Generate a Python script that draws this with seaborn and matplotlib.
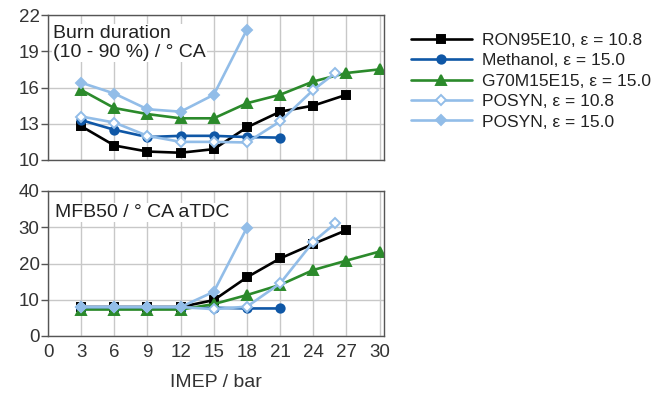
import numpy as np
import pandas as pd
import matplotlib
matplotlib.use("Agg")
import matplotlib.pyplot as plt
import seaborn as sns

sns.set_theme(style="whitegrid")
plt.rcParams['font.family'] = ['Liberation Sans', 'DejaVu Sans']

# ---- data ----
series_names = ["RON95E10, ε = 10.8", "Methanol, ε = 15.0", "G70M15E15, ε = 15.0",
                "POSYN, ε = 10.8", "POSYN, ε = 15.0"]

x_ron = [3, 6, 9, 12, 15, 18, 21, 24, 27]
x_meth = [3, 6, 9, 12, 15, 18, 21]
x_g70 = [3, 6, 9, 12, 15, 18, 21, 24, 27, 30]
x_pos108 = [3, 6, 9, 12, 15, 18, 21, 24, 26]
x_pos150 = [3, 6, 9, 12, 15, 18]

burn_ron = [12.8, 11.2, 10.7, 10.6, 10.9, 12.7, 14.0, 14.5, 15.4]
burn_meth = [13.3, 12.5, 11.9, 12.0, 12.0, 11.9, 11.85]
burn_g70 = [15.8, 14.3, 13.8, 13.45, 13.45, 14.7, 15.4, 16.5, 17.2, 17.5]
burn_pos108 = [13.6, 13.1, 12.0, 11.5, 11.5, 11.45, 13.2, 15.8, 17.2]
burn_pos150 = [16.4, 15.5, 14.2, 14.0, 15.4, 20.8]

mfb_ron = [8.0, 8.0, 8.0, 8.0, 9.9, 16.2, 21.4, 25.4, 29.2]
mfb_meth = [7.8, 7.8, 7.8, 7.8, 7.8, 7.6, 7.6]
mfb_g70 = [7.3, 7.3, 7.3, 7.3, 8.8, 11.3, 14.1, 18.2, 20.8, 23.3]
mfb_pos108 = [8.0, 8.0, 8.0, 8.0, 7.4, 8.1, 14.5, 26.0, 31.1]
mfb_pos150 = [8.0, 8.0, 8.0, 8.0, 12.2, 29.9]

x_ticks = [0, 3, 6, 9, 12, 15, 18, 21, 24, 27, 30]
burn_ticks = [10, 13, 16, 19, 22]
mfb_ticks = [0, 10, 20, 30, 40]

# ---- styles ----
lb = "#92bde8"
styles = [
    dict(color="black", marker="s", mfc="black", mec="black", ms=6),
    dict(color="#0f57a6", marker="o", mfc="#0f57a6", mec="#0f57a6", ms=6),
    dict(color="#2b8a2b", marker="^", mfc="#2b8a2b", mec="#2b8a2b", ms=7),
    dict(color=lb, marker="D", mfc="white", mec=lb, ms=5.5),
    dict(color=lb, marker="D", mfc=lb, mec=lb, ms=5.5),
]
xs = [x_ron, x_meth, x_g70, x_pos108, x_pos150]
burns = [burn_ron, burn_meth, burn_g70, burn_pos108, burn_pos150]
mfbs = [mfb_ron, mfb_meth, mfb_g70, mfb_pos108, mfb_pos150]

fig = plt.figure(figsize=(6.61, 3.93), dpi=100)
W, H = 661, 393
ax1 = fig.add_axes([48 / W, 1 - 160 / H, 336 / W, 145 / H])
ax2 = fig.add_axes([48 / W, 1 - 336 / H, 336 / W, 145 / H])

text_col = "#333333"
for ax, data, ticks, lim in [(ax1, burns, burn_ticks, (10, 22)), (ax2, mfbs, mfb_ticks, (0, 40))]:
    for name, x, y, st in zip(series_names, xs, data, styles):
        sns.lineplot(x=x, y=y, ax=ax, color=st["color"], linewidth=1.9,
                     marker=st["marker"], markersize=st["ms"],
                     markerfacecolor=st["mfc"], markeredgecolor=st["mec"],
                     markeredgewidth=1.4, label=name, legend=False)
    ax.set_xlim(0, 30.4)
    ax.set_ylim(*lim)
    ax.set_xticks(x_ticks)
    ax.set_yticks(ticks)
    ax.grid(True, color="#c8c8c8", linewidth=1.0)
    ax.set_axisbelow(True)
    for s in ax.spines.values():
        s.set_color("#555555")
        s.set_linewidth(1.0)
    ax.tick_params(axis="y", which="both", left=True, length=5, width=1.0,
                   color="#555555", labelsize=13.5, labelcolor=text_col, pad=1)
    ax.tick_params(axis="x", length=0, labelsize=13.5, labelcolor=text_col, pad=6)
    ax.set_xlabel("")
    ax.set_ylabel("")

ax1.tick_params(axis="x", labelbottom=False)
ax2.set_xlabel("IMEP / bar", fontsize=14, color=text_col, labelpad=9)

ax1.text(0.015, 0.93, "Burn duration\n(10 - 90 %) / ° CA", transform=ax1.transAxes,
         ha="left", va="top", fontsize=14, color="#222222", linespacing=1.15,
         bbox=dict(facecolor="white", edgecolor="none", pad=1))
ax2.text(0.02, 0.91, "MFB50 / ° CA aTDC", transform=ax2.transAxes,
         ha="left", va="top", fontsize=14, color="#222222",
         bbox=dict(facecolor="white", edgecolor="none", pad=1))

handles, labels = ax1.get_legend_handles_labels()
fig.legend(handles, labels, loc="upper left", bbox_to_anchor=(404 / W, 1 - 26 / H),
           frameon=False, fontsize=12.5, handlelength=3.5, handletextpad=0.6,
           labelspacing=0.3, borderaxespad=0, labelcolor="#222222")

fig.savefig("out.png", dpi=100)
